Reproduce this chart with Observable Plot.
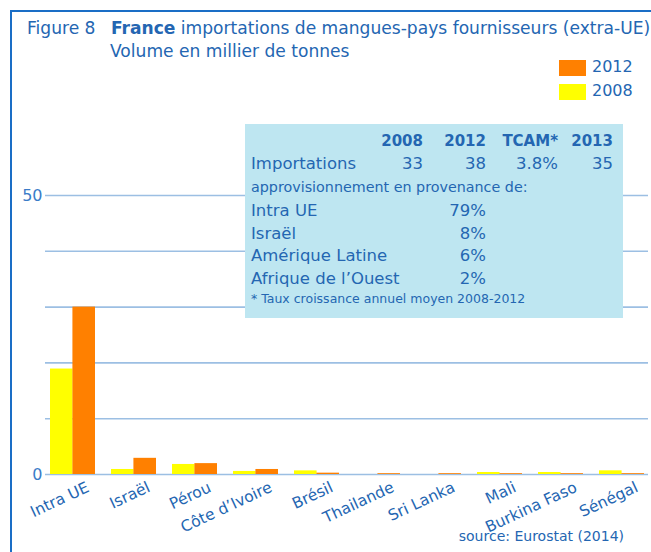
<!DOCTYPE html>
<html>
<head>
<meta charset="utf-8">
<script src="https://cdn.jsdelivr.net/npm/d3@7"></script>
<script src="https://cdn.jsdelivr.net/npm/@observablehq/plot@0.6"></script>
<style>
  html, body { margin: 0; padding: 0; background: #fff; }
  #wrap { position: relative; width: 651px; height: 552px; overflow: hidden; font-family: "DejaVu Sans", Verdana, sans-serif; color: #2466b2; }
  #frame { position: absolute; left: 10px; top: 10px; width: 660px; height: 560px; border-left: 2px solid #1a6ec6; border-top: 2px solid #1a6ec6; box-sizing: border-box; }
  #chart { position: absolute; left: 0; top: 0; }
  .t { position: absolute; white-space: nowrap; }
  #title { left: 27px; top: 18px; font-size: 17.1px; }
  #tb { margin-left: 10px; }
  #subtitle { left: 110px; top: 41px; font-size: 17.1px; }
  .sw { position: absolute; width: 27px; height: 16px; }
  .lg { font-size: 16px; }
  #box { position: absolute; left: 245px; top: 124px; width: 378px; height: 194px; background: #bee6f1; }
  #source { right: 27px; top: 528px; font-size: 14px; }
</style>
</head>
<body>
<div id="wrap">
  <div id="chart"></div>
  <div id="frame"></div>
  <div class="t" id="title"></div>
  <div class="t" id="subtitle"></div>
  <div id="legend"></div>
  <div id="box"></div>
  <div class="t" id="source"></div>
</div>
<script>
const titleLead = "Figure 8";
const titleBold = "France";
const titleRest = "importations de mangues-pays fournisseurs (extra-UE)";
const subtitleText = "Volume en millier de tonnes";
const sourceText = "source: Eurostat (2014)";

const categories = ["Intra UE", "Israël", "Pérou", "Côte d’Ivoire", "Brésil", "Thailande", "Sri Lanka", "Mali", "Burkina Faso", "Sénégal"];
const v2008 = [18.9, 0.9, 1.8, 0.55, 0.65, 0, 0, 0.36, 0.36, 0.66];
const v2012 = [30.0, 2.9, 1.95, 0.9, 0.24, 0.15, 0.15, 0.15, 0.15, 0.15];
const seriesNames = ["2012", "2008"];
const seriesColors = ["#ff8000", "#ffff00"];
const gridTicks = [0, 10, 20, 30, 40, 50];
const labelTicks = [0, 50];

const tableHeader = ["2008", "2012", "TCAM*", "2013"];
const importLabel = "Importations";
const importValues = ["33", "38", "3.8%", "35"];
const originTitle = "approvisionnement en provenance de:";
const originLabels = ["Intra UE", "Israël", "Amérique Latine", "Afrique de l’Ouest"];
const originShares = ["79%", "8%", "6%", "2%"];
const footnote = "* Taux croissance annuel moyen 2008-2012";

// Title
const titleEl = document.getElementById("title");
titleEl.innerHTML = titleLead + ' <b id="tb">' + titleBold + '</b> ' + titleRest;
document.getElementById("subtitle").textContent = subtitleText;
document.getElementById("source").textContent = sourceText;

// Legend
const legend = document.getElementById("legend");
seriesNames.forEach((s, i) => {
  const sw = document.createElement("div");
  sw.className = "sw";
  sw.style.left = "559px"; sw.style.top = (60 + i * 24) + "px"; sw.style.background = seriesColors[i];
  legend.appendChild(sw);
  const t = document.createElement("div");
  t.className = "t lg";
  t.style.left = "592px"; t.style.top = (57 + i * 24) + "px";
  t.textContent = s;
  legend.appendChild(t);
});

// Info box
const box = document.getElementById("box");
function put(text, x, y, size, opts = {}) {
  const d = document.createElement("div");
  d.className = "t";
  d.style.fontSize = size + "px";
  d.style.top = y + "px";
  if (opts.right) { d.style.right = (378 - x) + "px"; } else { d.style.left = x + "px"; }
  if (opts.bold) d.style.fontWeight = "bold";
  d.textContent = text;
  box.appendChild(d);
}
const colRight = [178, 241, 313, 368];
tableHeader.forEach((h, i) => put(h, colRight[i], 8, 15, {right: true, bold: true}));
put(importLabel, 6, 30, 16.5);
importValues.forEach((v, i) => put(v, colRight[i], 30, 16.5, {right: true}));
put(originTitle, 6, 55, 14.3);
originLabels.forEach((l, i) => {
  put(l, 6, 77 + i * 22.7, 16.5);
  put(originShares[i], colRight[1], 77 + i * 22.7, 16.5, {right: true});
});
put(footnote, 6, 167, 12.5);

// Chart
const data = categories.map((c, i) => ({cat: c, a: v2008[i], b: v2012[i]}));
const W = 651, H = 552, mL = 45, mR = 3;
const pI = 0.266, pO = 0.07;
const step = (W - mR - mL) / (categories.length - pI + 2 * pO);
const bw = step * (1 - pI);

const plot = Plot.plot({
  width: W, height: H,
  marginLeft: mL, marginRight: mR, marginTop: 195, marginBottom: 78,
  style: {fontFamily: "DejaVu Sans, Verdana, sans-serif", background: "transparent", overflow: "visible"},
  x: {domain: categories, paddingInner: pI, paddingOuter: pO, label: null},
  y: {domain: [0, 50], label: null},
  marks: [
    Plot.ruleY(gridTicks, {stroke: "#9cbfe3", strokeWidth: 1.6}),
    Plot.barY(data, {x: "cat", y: "a", fill: seriesColors[1], insetRight: bw / 2}),
    Plot.barY(data, {x: "cat", y: "b", fill: seriesColors[0], insetLeft: bw / 2}),
    Plot.axisY(labelTicks, {tickSize: 0, tickPadding: 3, fontSize: 16, color: "#3a7cc8", label: null}),
    Plot.axisX({tickSize: 0, tickRotate: -25, fontSize: 15.5, color: "#2466b2", tickPadding: 4, dx: 15, dy: 8, label: null})
  ]
});
document.getElementById("chart").appendChild(plot);
</script>
</body>
</html>
